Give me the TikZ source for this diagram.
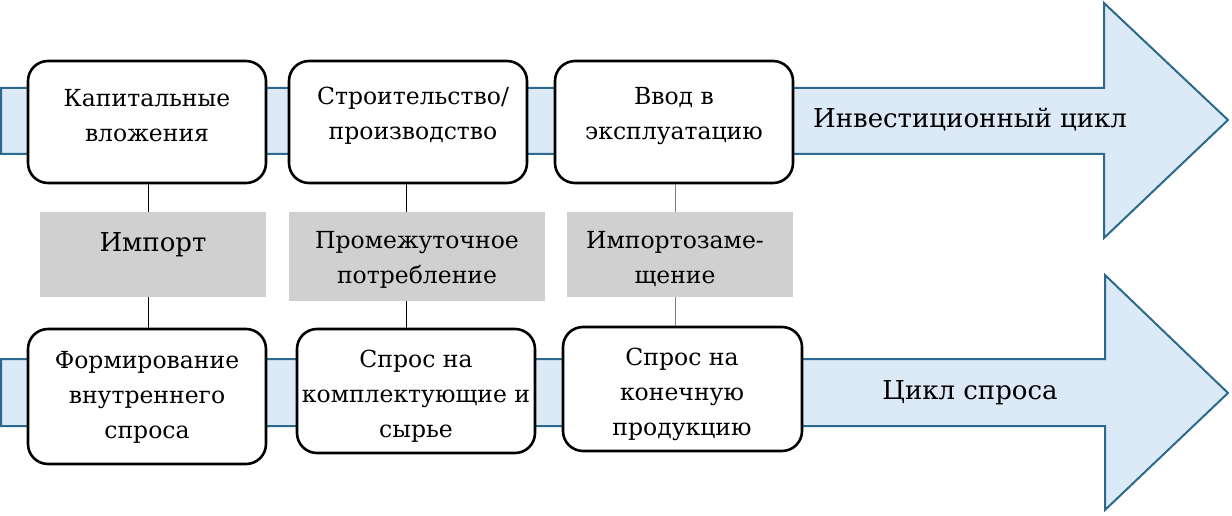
\documentclass[tikz,border=0pt]{standalone}
\usepackage{fontspec}
\newfontfamily\serf{DejaVu Serif}
\def\serfsize{23.5}\def\serfbig{26}
\definecolor{arrfill}{HTML}{DCE9F6}
\definecolor{arrdraw}{HTML}{2B6A8C}
\definecolor{grayfill}{HTML}{D0D0D0}
\tikzset{
  bigarrow/.style={fill=arrfill, draw=arrdraw, line width=2pt, line join=miter},
  stagebox/.style={draw=black, fill=white, line width=2.6pt, rounded corners=20pt, inner sep=0pt},
  graybox/.style={fill=grayfill, draw=none, inner sep=0pt},
  txt/.style={align=center, inner sep=0pt, font=\serf\fontsize{\serfsize}{35}\selectfont},
  bigtxt/.style={align=center, inner sep=0pt, font=\serf\fontsize{\serfbig}{36}\selectfont},
  link/.style={line width=1pt, draw=black},
  linkgray/.style={line width=1pt, draw=black!50}
}
\begin{document}
\begin{tikzpicture}[x=1pt,y=-1pt]
\useasboundingbox (0,0) rectangle (1232,516);
% arrows
\draw[bigarrow] (1,88) -- (1104,88) -- (1104,3) -- (1228,120) -- (1104,238) -- (1104,154) -- (1,154) -- cycle;
\draw[bigarrow] (1,359) -- (1105,359) -- (1105,275) -- (1228,393) -- (1105,510) -- (1105,426) -- (1,426) -- cycle;
\node[bigtxt] (inv) at (970,120) {Инвестиционный цикл};
\node[bigtxt] (dem) at (970,393) {Цикл спроса};
% top boxes
\node[stagebox, minimum width=238pt, minimum height=122pt] (b1) at (147,122) {};
\node[stagebox, minimum width=238pt, minimum height=122pt] (b2) at (408,122) {};
\node[stagebox, minimum width=238pt, minimum height=122pt] (b3) at (674,122) {};
\node[txt] (t1) at (147,116) {Капитальные\\вложения};
\node[txt] (t2) at (413,116) {Строительство/\\производство};
\node[txt] (t3) at (674,116) {Ввод в\\эксплуатацию};
% gray boxes
\node[graybox, minimum width=226pt, minimum height=85pt] (g1) at (153,254.5) {};
\node[graybox, minimum width=256pt, minimum height=89pt] (g2) at (417,256.5) {};
\node[graybox, minimum width=226pt, minimum height=85pt] (g3) at (680,254.5) {};
\node[bigtxt] (gt1) at (153,245) {Импорт};
\node[txt] (gt2) at (417,260) {Промежуточное\\потребление};
\node[txt] (gt3) at (675,259) {Импортозаме-\\щение};
% bottom boxes
\node[stagebox, minimum width=238pt, minimum height=135pt] (b4) at (147,396.5) {};
\node[stagebox, minimum width=238pt, minimum height=124pt] (b5) at (416,391) {};
\node[stagebox, minimum width=239pt, minimum height=124pt] (b6) at (682.5,389) {};
\node[txt] (t4) at (147,397) {Формирование\\внутреннего\\спроса};
\node[txt] (t5) at (416,396) {Спрос на\\комплектующие и\\сырье};
\node[txt] (t6) at (682,394) {Спрос на\\конечную\\продукцию};
% links
\coordinate (c1) at (148,0);
\coordinate (c2) at (406,0);
\coordinate (c3) at (675,0);
\draw[link] (c1 |- b1.south) -- (c1 |- g1.north);
\draw[link] (c1 |- g1.south) -- (c1 |- b4.north);
\draw[link] (c2 |- b2.south) -- (c2 |- g2.north);
\draw[link] (c2 |- g2.south) -- (c2 |- b5.north);
\draw[linkgray] (c3 |- b3.south) -- (c3 |- g3.north);
\draw[linkgray] (c3 |- g3.south) -- (c3 |- b6.north);
\end{tikzpicture}
\end{document}
